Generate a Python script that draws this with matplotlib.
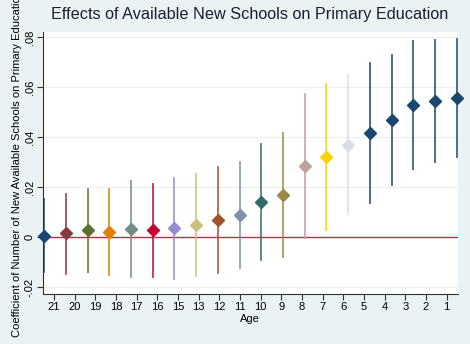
import matplotlib.pyplot as plt
import numpy as np

# ages in the order shown on the x axis (14 is absent in the original)
ages = [21, 20, 19, 18, 17, 16, 15, 13, 12, 11, 10, 9, 8, 7, 6, 5, 4, 3, 2, 1]
coef = [0.0005, 0.0015, 0.0027, 0.0020, 0.0033, 0.0027, 0.0035, 0.0048, 0.0070, 0.0088,
        0.0141, 0.0170, 0.0284, 0.0321, 0.0370, 0.0418, 0.0469, 0.0529, 0.0547, 0.0558]
ci_hi = [0.0153, 0.0175, 0.0192, 0.0192, 0.0225, 0.0212, 0.0236, 0.0252, 0.0282, 0.0300,
         0.0373, 0.0416, 0.0574, 0.0614, 0.0650, 0.0698, 0.0730, 0.0784, 0.0791, 0.0794]
ci_lo = [-0.0138, -0.0146, -0.0139, -0.0153, -0.0158, -0.0160, -0.0166, -0.0157, -0.0142, -0.0122,
         -0.0092, -0.0079, -0.0005, 0.0028, 0.0091, 0.0138, 0.0210, 0.0274, 0.0302, 0.0322]
yticks = [-0.02, 0, 0.02, 0.04, 0.06, 0.08]
ytick_labels = ["-.02", "0", ".02", ".04", ".06", ".08"]

# Stata s2color palette; series past the 15th fall back to navy
palette = [(26, 71, 111), (144, 53, 59), (85, 117, 47), (227, 126, 0), (110, 142, 132),
           (193, 5, 52), (147, 141, 210), (202, 194, 126), (160, 82, 45), (123, 146, 168),
           (45, 109, 102), (156, 136, 71), (191, 161, 156), (255, 210, 0), (215, 223, 228)]
palette = [tuple(c / 255 for c in rgb) for rgb in palette]

plt.rcParams['font.family'] = ['Liberation Sans', 'DejaVu Sans']

bg = (234/255, 242/255, 243/255)
fig = plt.figure(figsize=(4.7, 3.44), dpi=100, facecolor=bg)
ax = fig.add_axes([0.0915, 0.145, 0.8825, 0.762])
ax.set_facecolor('white')

xs = np.arange(len(ages))
for i in xs:
    c = palette[i] if i < len(palette) else palette[0]
    ax.plot([i, i], [ci_lo[i], ci_hi[i]], color=c, lw=1.3, alpha=0.85, zorder=2)
    ax.plot(i, coef[i], marker='D', ms=6.5, color=c, mec=c, zorder=3, clip_on=False)

ax.axhline(0, color=(200/255, 40/255, 70/255), lw=1.0, zorder=1)
for y in yticks:
    if y != 0:
        ax.axhline(y, color=(236/255, 238/255, 238/255), lw=0.8, zorder=0)

ax.set_xlim(-0.05, 19.05)
ax.set_ylim(-0.0228, 0.0822)
ax.set_xticks(np.linspace(0.46, 18.54, len(ages)))
ax.set_xticklabels([str(a) for a in ages], fontsize=8)
ax.set_yticks(yticks)
ax.set_yticklabels(ytick_labels, fontsize=8, rotation=90, va='center')

for s in ['top', 'right']:
    ax.spines[s].set_visible(False)
for s in ['left', 'bottom']:
    ax.spines[s].set_color('#333333')
    ax.spines[s].set_linewidth(0.8)
ax.tick_params(direction='out', length=4, width=0.8, color='#333333', pad=2)

ax.set_xlabel("Age", fontsize=8, labelpad=1)
ax.set_ylabel("Coefficient of Number of New Available Schools on Primary Education",
              fontsize=8, labelpad=2)
fig.suptitle("Effects of Available New Schools on Primary Education",
             fontsize=11.7, x=0.532, y=0.98, color='#1a2030')

fig.savefig("out.png", dpi=100, facecolor=bg)
